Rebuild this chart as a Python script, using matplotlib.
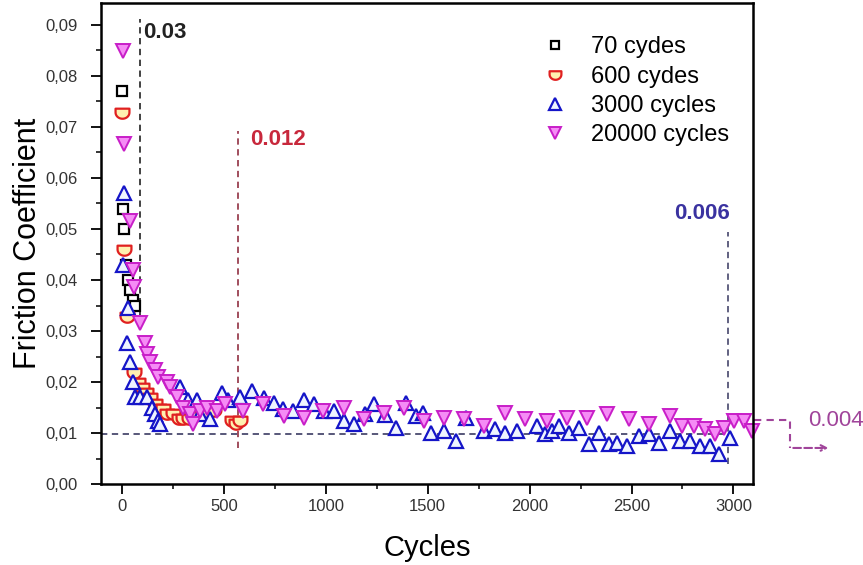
import matplotlib.pyplot as plt
import numpy as np
from matplotlib.path import Path
from matplotlib.ticker import MultipleLocator, FuncFormatter

plt.rcParams['font.family'] = ['Liberation Sans', 'DejaVu Sans']

# 70 cycles
x70 = [2, 5, 10, 20, 30, 40, 55, 65]
y70 = [0.077, 0.054, 0.050, 0.043, 0.040, 0.038, 0.036, 0.035]

# 600 cycles
x600 = [0, 10, 25, 60, 80, 100, 120, 140, 160, 180, 200, 220, 250, 280,
        300, 330, 360, 400, 450, 540, 560, 580]
y600 = [0.073, 0.046, 0.033, 0.022, 0.020, 0.019, 0.018, 0.017, 0.016, 0.015,
        0.015, 0.014, 0.014, 0.013, 0.013, 0.013, 0.0135, 0.014, 0.0145,
        0.0125, 0.012, 0.0125]

# 3000 cycles
x3000 = [10, 5, 30, 25, 40, 54, 64, 89, 123, 148, 163, 177, 187, 286, 325,
         369, 384, 433, 493, 522, 581, 640, 695, 744, 788, 837, 892, 941,
         990, 1039, 1089, 1138, 1190, 1236, 1290, 1345, 1394, 1443, 1478,
         1517, 1581, 1640, 1690, 1778, 1828, 1877, 1936, 2034, 2074, 2108,
         2143, 2192, 2241, 2291, 2340, 2389, 2429, 2478, 2537, 2586, 2635,
         2690, 2739, 2788, 2837, 2887, 2931, 2985]
y3000 = [0.057, 0.043, 0.0345, 0.0276, 0.0239, 0.020, 0.017, 0.017, 0.017,
         0.015, 0.0138, 0.0124, 0.0118, 0.019, 0.0164, 0.0164, 0.0138,
         0.0128, 0.0178, 0.0164, 0.017, 0.0183, 0.0168, 0.016, 0.0148,
         0.0144, 0.0164, 0.0158, 0.0144, 0.0144, 0.0124, 0.0118, 0.0138,
         0.0158, 0.0135, 0.011, 0.016, 0.0134, 0.014, 0.010, 0.0104, 0.0085,
         0.013, 0.0104, 0.0108, 0.010, 0.0104, 0.0114, 0.0099, 0.0104,
         0.0114, 0.010, 0.011, 0.0079, 0.010, 0.0079, 0.0081, 0.0075, 0.0095,
         0.0099, 0.0081, 0.0105, 0.0085, 0.0085, 0.0075, 0.0075, 0.006,
         0.0091]

# 20000 cycles
x20000 = [5, 8, 39, 54, 60, 89, 113, 123, 138, 163, 177, 222, 236, 271, 300,
          335, 350, 384, 419, 468, 507, 596, 690, 793, 892, 985, 1089, 1187,
          1286, 1384, 1483, 1581, 1680, 1778, 1877, 1975, 2084, 2182, 2281,
          2379, 2488, 2586, 2690, 2749, 2808, 2862, 2911, 2956, 3005, 3050,
          3090]
y20000 = [0.0848, 0.0667, 0.0515, 0.042, 0.0387, 0.0316, 0.0276, 0.0256,
          0.0239, 0.0223, 0.021, 0.020, 0.019, 0.017, 0.015, 0.0138, 0.0118,
          0.0144, 0.015, 0.0144, 0.0158, 0.0144, 0.0158, 0.0134, 0.013,
          0.0144, 0.015, 0.0128, 0.014, 0.015, 0.0124, 0.013, 0.0128, 0.0114,
          0.014, 0.0128, 0.0124, 0.013, 0.013, 0.0138, 0.0128, 0.0118, 0.0134,
          0.0114, 0.0114, 0.0108, 0.0099, 0.011, 0.0124, 0.0124, 0.0104]

labels = ['70 cydes', '600 cydes', '3000 cycles', '20000 cycles']

# cup shaped marker for the 600 cycles set
t = np.linspace(np.pi, 2 * np.pi, 20)
cup = [(-1, 0.55), (-1, 0.0)] + list(zip(np.cos(t), 0.9 * np.sin(t))) + [(1, 0.55), (-1, 0.55)]
cup_marker = Path(cup, closed=True)

fig = plt.figure(figsize=(8.63, 5.65), dpi=100)
ax = fig.add_axes([0.117, 0.143, 0.756, 0.852])

ax.plot(x70, y70, ls='none', marker='s', ms=7, mfc='white', mec='black',
        mew=1.6, label=labels[0])
ax.plot(x600, y600, ls='none', marker=cup_marker, ms=10, mfc='#fff0b0',
        mec='#e02020', mew=1.6, label=labels[1])
ax.plot(x3000, y3000, ls='none', marker='^', ms=9.5, mfc='#eef4ff',
        mec='#1515c8', mew=1.6, label=labels[2], clip_on=False)
ax.plot(x20000, y20000, ls='none', marker='v', ms=9.5, mfc='#f58cf5',
        mec='#c81ec8', mew=1.4, label=labels[3], clip_on=False)

# guide lines
dash = (0, (3.5, 2.5))
ax.plot([-103, 2975], [0.0098, 0.0098], color='#4a4a6e', lw=1.3, ls=dash, zorder=0.5)
ax.plot([88, 88], [0.031, 0.0912], color='#333333', lw=1.3, ls=dash, zorder=0.5)
ax.plot([570, 570], [0.007, 0.0692], color='#9a4050', lw=1.3, ls=dash, zorder=0.5)
ax.plot([2975, 2975], [0.004, 0.0494], color='#555577', lw=1.3, ls=dash, zorder=0.5)

ax.text(103, 0.0884, '0.03', fontsize=16, fontweight='bold', color='#222222',
        va='center', ha='left')
ax.text(628, 0.0675, '0.012', fontsize=16, fontweight='bold', color='#c8283c',
        va='center', ha='left')
ax.text(2985, 0.0531, '0.006', fontsize=16, fontweight='bold', color='#3a32a0',
        va='center', ha='right')

# annotation outside the frame on the right
pc = '#a0449a'
ax.plot([3100, 3280, 3280], [0.0125, 0.0125, 0.0071], color=pc, lw=1.5,
        ls=dash, clip_on=False)
ax.annotate('', xy=(3480, 0.0071), xytext=(3280, 0.0071), annotation_clip=False,
            arrowprops=dict(arrowstyle='->', color=pc, lw=1.5, ls='--'))
ax.text(3365, 0.0124, '0.004', fontsize=16, color=pc, va='center', ha='left')

ax.set_xlim(-103, 3098)
ax.set_ylim(0, 0.0943)
ax.xaxis.set_major_locator(MultipleLocator(500))
ax.xaxis.set_minor_locator(MultipleLocator(250))
ax.yaxis.set_major_locator(MultipleLocator(0.01))
ax.yaxis.set_minor_locator(MultipleLocator(0.005))
ax.yaxis.set_major_formatter(FuncFormatter(lambda v, p: ('%.2f' % v).replace('.', ',')))
ax.tick_params(which='major', direction='out', length=7.5, width=1.3,
               labelsize=12, labelcolor='#333333')
ax.tick_params(axis='y', which='major', pad=9)
ax.tick_params(which='minor', direction='out', length=3.5, width=1.1)
ax.tick_params(top=False, right=False)
for s in ax.spines.values():
    s.set_linewidth(1.8)

ax.set_xlabel('Cycles', fontsize=21, labelpad=14)
ax.set_ylabel('Friction Coefficient', fontsize=22, labelpad=2)

ax.legend(loc='upper left', bbox_to_anchor=(0.652, 0.965), frameon=False,
          fontsize=17, handlelength=1.0, handletextpad=1.05, labelspacing=0.31,
          borderpad=0.2, markerscale=0.85)

fig.savefig('out.png', dpi=100)
